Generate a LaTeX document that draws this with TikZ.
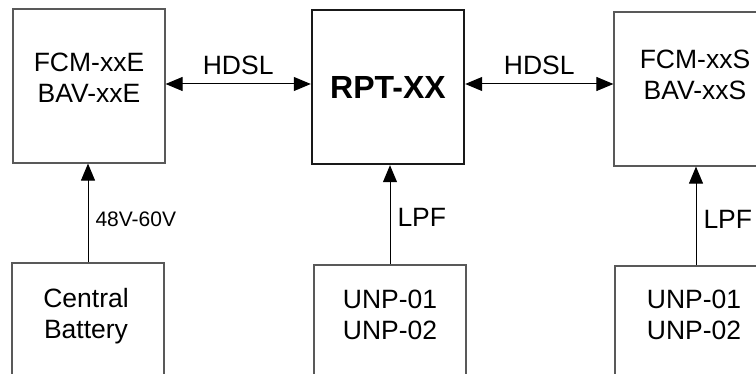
\documentclass[tikz,border=0pt]{standalone}
\usepackage{fontspec}
\setmainfont{Liberation Sans}
\usetikzlibrary{arrows.meta,positioning}

\begin{document}
\begin{tikzpicture}[x=1pt, y=-1pt,
    unit/.style={rectangle, draw=black!65, line width=1.2pt, minimum width=152pt,
        minimum height=154pt, inner sep=0pt},
    hub/.style={unit, draw=black!90, line width=2.4pt},
    txt/.style={align=center, font=\fontsize{26.5}{31}\selectfont, inner sep=0pt},
    lbl/.style={font=\fontsize{26.5}{31}\selectfont, inner sep=1pt},
    arr/.style={-{Triangle[length=17pt, width=14pt]}, line width=1pt},
    darr/.style={{Triangle[length=17pt, width=14pt]}-{Triangle[length=17pt, width=14pt]}, line width=1pt}
]
\clip (0,0) rectangle (756,374);

% top row
\node[unit] (fcmE) at (89,86) {};
\node[txt] (fcmE-txt) at (89,78) {FCM-xxE\\BAV-xxE};

\node[hub, font=\bfseries\fontsize{32}{38}\selectfont] (rpt) at (388,87) {RPT-XX};

\node[unit, minimum width=162pt] (fcmS) at (695,89) {};
\node[txt] (fcmS-txt) at (695,75) {FCM-xxS\\BAV-xxS};

% bottom row
\node[unit] (bat) at (88,340) {};
\node[txt] (bat-txt) at (86,316) {Central\\Battery};

\node[unit] (unpC) at (390,342) {};
\node[txt] (unpC-txt) at (390,315) {UNP-01\\UNP-02};

\node[unit, minimum width=162pt] (unpS) at (696,343) {};
\node[txt] (unpS-txt) at (694,315) {UNP-01\\UNP-02};

% HDSL links
\draw[darr] ([yshift=2pt]fcmE.east) -- node[lbl, above=8pt] (hdslE) {HDSL} ([yshift=3pt]rpt.west);
\draw[darr] ([yshift=3pt]rpt.east) -- node[lbl, above=8pt] (hdslS) {HDSL} ([yshift=5pt]fcmS.west);

% feeds
\draw[arr] (bat.north) -- node[lbl, pos=0.44, right=6pt, font=\fontsize{21}{25}\selectfont] (volt) {48V-60V}
    (bat.north |- fcmE.south);
\draw[arr] (unpC.north) -- node[lbl, pos=0.47, right=6pt] (lpfC) {LPF} (unpC.north |- rpt.south);
\draw[arr] (unpS.north) -- node[lbl, pos=0.47, right=6pt] (lpfS) {LPF} (unpS.north |- fcmS.south);
\end{tikzpicture}
\end{document}
